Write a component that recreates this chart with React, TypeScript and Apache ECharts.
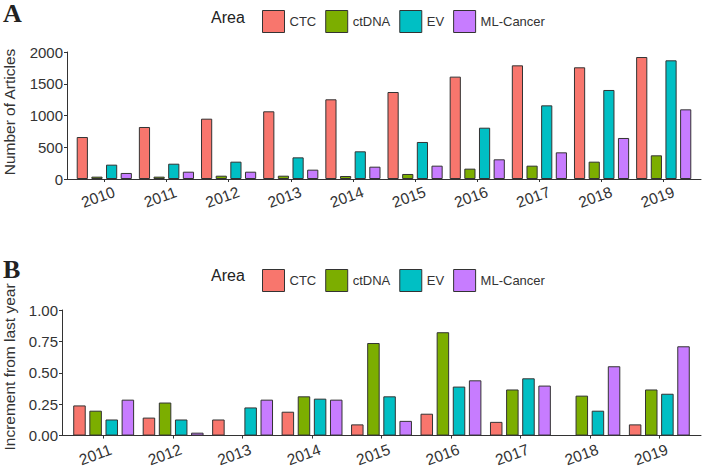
import React, { useEffect, useRef } from 'react';
import * as echarts from 'echarts';

const areas = ['CTC', 'ctDNA', 'EV', 'ML-Cancer'];
const colors = ['#F8766D', '#7CAE00', '#00BFC4', '#C77CFF'];

const yearsA = ['2010', '2011', '2012', '2013', '2014', '2015', '2016', '2017', '2018', '2019'];
const ctcA = [661, 819, 950, 1066, 1255, 1370, 1612, 1790, 1759, 1921];
const ctdnaA = [37, 37, 52, 52, 47, 79, 163, 210, 273, 373];
const evA = [226, 241, 273, 341, 436, 583, 808, 1160, 1402, 1869];
const mlA = [95, 115, 115, 147, 194, 210, 310, 420, 646, 1097];

const yearsB = ['2011', '2012', '2013', '2014', '2015', '2016', '2017', '2018', '2019'];
const ctcB = [0.24, 0.143, 0.128, 0.19, 0.089, 0.174, 0.109, null, 0.089];
const ctdnaB = [0.198, 0.263, null, 0.3125, 0.737, 0.823, 0.367, 0.318, 0.367];
const evB = [0.128, 0.128, 0.224, 0.294, 0.3125, 0.39, 0.456, 0.198, 0.333];
const mlB = [0.286, 0.023, 0.286, 0.286, 0.117, 0.44, 0.398, 0.552, 0.711];

const FONT = "'Liberation Sans', Arial, sans-serif";
const SERIF = "'Liberation Serif', 'Times New Roman', serif";
const AX = '#333333';

function App() {
  const ref = useRef<HTMLDivElement>(null);
  useEffect(() => {
    document.body.style.margin = '0';
    const chart = echarts.init(ref.current!, null, { renderer: 'svg' });
    const seriesA = [ctcA, ctdnaA, evA, mlA];
    const seriesB = [ctcB, ctdnaB, evB, mlB];
    const idxA = yearsA.map((_, i) => i + 1);
    const idxB = yearsB.map((_, i) => i + 1);

    // main axis: line + ticks
    const mkX = (gridIndex: number, years: string[], idx: number[]) => ({
      type: 'value',
      gridIndex,
      position: 'bottom',
      min: 0.4,
      max: years.length + 0.6,
      splitLine: { show: false },
      axisLine: { show: true, lineStyle: { color: AX, width: 1 } },
      axisTick: { show: true, length: 3, customValues: idx, lineStyle: { color: AX } },
      axisLabel: { show: false },
    });
    // label-only axis, slightly shifted so that rotated labels sit like ggplot's
    const mkXLabels = (gridIndex: number, years: string[], idx: number[], shift: number, margin: number) => ({
      type: 'value',
      gridIndex,
      position: 'bottom',
      min: 0.4 + shift,
      max: years.length + 0.6 + shift,
      splitLine: { show: false },
      axisLine: { show: false },
      axisTick: { show: false },
      axisLabel: {
        customValues: idx,
        formatter: (v: number) => years[Math.round(v) - 1] ?? '',
        rotate: 20,
        align: 'center',
        verticalAlign: 'middle',
        margin,
        fontSize: 15.5,
        color: AX,
        fontFamily: FONT,
      },
    });
    const mkY = (gridIndex: number, max: number, interval: number, fmt: (v: number) => string) => ({
      type: 'value',
      gridIndex,
      min: 0,
      max,
      interval,
      splitLine: { show: false },
      axisLine: { show: true, lineStyle: { color: AX, width: 1 } },
      axisTick: { show: true, length: 3, lineStyle: { color: AX } },
      axisLabel: { fontSize: 15, color: AX, fontFamily: FONT, margin: 4, formatter: fmt },
    });

    const barSeries = (data: (number | null)[][], idx: number[], xAxis: number, yAxis: number, width: string, gap: string) =>
      data.map((vals, s) => ({
        type: 'bar',
        name: areas[s],
        xAxisIndex: xAxis,
        yAxisIndex: yAxis,
        barWidth: width,
        barGap: gap,
        itemStyle: { color: colors[s], borderColor: AX, borderWidth: 1 },
        emphasis: { disabled: true },
        data: vals.map((v, i) => [idx[i], v === null ? '-' : v]),
      }));

    const legend = (top: number) => ({
      left: 257,
      top,
      itemWidth: 22,
      itemHeight: 22,
      itemGap: 9,
      icon: 'rect',
      data: areas,
      itemStyle: { borderColor: AX, borderWidth: 1 },
      textStyle: { fontSize: 13, color: AX, fontFamily: FONT },
    });

    const label = (text: string, x: number, y: number, font: string) => ({
      type: 'text', x, y,
      style: { text, font, fill: '#222', verticalAlign: 'middle', align: 'left' },
    });

    chart.setOption({
      animation: false,
      backgroundColor: '#ffffff',
      grid: [
        { left: 67, right: 1, top: 52, bottom: 290 },
        { left: 62, right: 1, top: 310, bottom: 31 },
      ],
      legend: [legend(5), legend(264)],
      xAxis: [
        mkX(0, yearsA, idxA),
        mkXLabels(0, yearsA, idxA, 0.1, 18),
        mkX(1, yearsB, idxB),
        mkXLabels(1, yearsB, idxB, 0.12, 19),
      ],
      yAxis: [
        mkY(0, 2000, 500, (v: number) => String(v)),
        mkY(1, 1, 0.25, (v: number) => v.toFixed(2)),
      ],
      graphic: [
        label('A', 3, 13.5, `bold 26px ${SERIF}`),
        label('Area', 211, 17, `16px ${FONT}`),
        label('B', 3, 269, `bold 26px ${SERIF}`),
        label('Area', 211, 275, `16px ${FONT}`),
        {
          type: 'text', x: 9.5, y: 112, rotation: Math.PI / 2,
          style: { text: 'Number of Articles', font: `15.5px ${FONT}`, fill: AX, align: 'center', verticalAlign: 'middle' },
        },
        {
          type: 'text', x: 9.5, y: 367, rotation: Math.PI / 2,
          style: { text: 'Increment from last year', font: `15.5px ${FONT}`, fill: AX, align: 'center', verticalAlign: 'middle' },
        },
      ],
      series: [
        ...barSeries(seriesA, idxA, 0, 0, '18%', '31%'),
        ...barSeries(seriesB, idxB, 2, 1, '18%', '29%'),
      ],
    });
    return () => chart.dispose();
  }, []);
  return <div ref={ref} style={{ width: 702, height: 469, position: 'fixed', left: 0, top: 0 }} />;
}

export default App;
